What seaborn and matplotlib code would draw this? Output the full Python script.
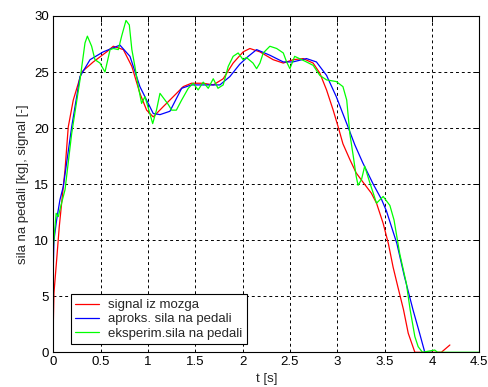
import numpy as np
import pandas as pd
import matplotlib
matplotlib.use("Agg")
import matplotlib.pyplot as plt
import seaborn as sns

# -----------------------------
# Data
# -----------------------------
t_red = [0.0, 0.001, 0.007, 0.035, 0.063, 0.088, 0.124, 0.158, 0.211, 0.3,
         0.422, 0.564, 0.634, 0.74, 0.83, 0.915, 0.986, 1.056, 1.16, 1.267,
         1.373, 1.46, 1.584, 1.69, 1.795, 1.9, 2.006, 2.077, 2.183, 2.323,
         2.43, 2.534, 2.64, 2.745, 2.816, 2.887, 2.957, 3.01, 3.06, 3.133,
         3.2, 3.27, 3.36, 3.415, 3.485, 3.54, 3.59, 3.64, 3.7, 3.75,
         3.82, 4.1, 4.19]
v_red = [0.0, 2.9, 5.3, 8.2, 11.2, 13.3, 16.3, 20.1, 22.5, 25.0,
         25.9, 26.8, 27.3, 27.0, 25.5, 23.1, 21.6, 21.0, 21.9, 22.8,
         23.7, 24.0, 24.0, 23.85, 24.4, 25.8, 26.8, 27.1, 26.8, 26.1,
         25.8, 26.1, 26.2, 25.8, 24.9, 23.4, 21.6, 20.1, 18.6, 17.2,
         16.0, 15.2, 14.2, 13.3, 11.5, 9.7, 7.6, 5.85, 3.8, 1.7,
         0.0, 0.0, 0.65]

t_blue = [0.0, 0.007, 0.035, 0.07, 0.106, 0.194, 0.282, 0.388, 0.528, 0.704,
          0.81, 0.915, 1.056, 1.127, 1.232, 1.356, 1.46, 1.584, 1.76, 1.866,
          1.97, 2.06, 2.148, 2.288, 2.43, 2.53, 2.675, 2.78, 2.887, 2.99,
          3.1, 3.186, 3.27, 3.38, 3.47, 3.52, 3.63, 3.71, 3.8, 3.87,
          3.925, 4.0]
v_blue = [7.6, 10.0, 11.8, 13.6, 14.8, 20.1, 24.6, 26.1, 26.8, 27.4,
          26.4, 23.7, 21.3, 21.2, 21.5, 23.55, 23.85, 23.85, 23.85, 24.6,
          25.7, 26.4, 27.0, 26.5, 25.9, 25.9, 26.2, 25.9, 24.7, 22.8,
          20.4, 18.5, 16.9, 15.0, 13.6, 12.6, 9.7, 6.75, 3.8, 1.7,
          0.0, 0.0]

t_green = [0.0, 0.03, 0.053, 0.078, 0.124, 0.194, 0.282, 0.335, 0.36, 0.405,
           0.44, 0.493, 0.546, 0.6, 0.634, 0.687, 0.722, 0.768, 0.803, 0.83,
           0.862, 0.898, 0.933, 0.968, 1.0, 1.05, 1.09, 1.127, 1.18, 1.215,
           1.25, 1.3, 1.356, 1.426, 1.478, 1.53, 1.584, 1.637, 1.69, 1.74,
           1.795, 1.848, 1.9, 1.953, 2.006, 2.04, 2.11, 2.148, 2.183, 2.218,
           2.288, 2.36, 2.43, 2.465, 2.5, 2.55, 2.6, 2.675, 2.745, 2.816,
           2.887, 2.99, 3.06, 3.1, 3.133, 3.17, 3.2, 3.22, 3.256, 3.29,
           3.345, 3.415, 3.485, 3.556, 3.6, 3.66, 3.73, 3.77, 3.82, 3.855,
           3.9, 4.03, 4.06, 4.5]
v_green = [9.4, 12.4, 12.1, 13.0, 14.5, 19.5, 24.3, 27.6, 28.2, 27.3,
           26.1, 25.8, 25.0, 27.0, 27.1, 27.0, 28.2, 29.6, 29.2, 27.0,
           25.5, 23.7, 22.2, 22.8, 21.9, 20.4, 21.6, 23.1, 22.5, 22.1,
           21.6, 21.6, 22.5, 23.55, 24.0, 23.4, 24.1, 23.55, 24.4, 23.55,
           23.85, 25.5, 26.4, 26.7, 26.1, 26.3, 25.8, 25.3, 25.8, 26.7,
           27.3, 27.1, 26.7, 25.9, 25.3, 26.4, 26.2, 25.9, 25.6, 24.7,
           24.3, 24.15, 23.7, 22.5, 19.5, 17.45, 15.7, 14.9, 15.4, 16.6,
           15.1, 13.3, 13.9, 13.1, 11.8, 8.8, 6.15, 3.8, 1.4, 0.5,
           0.0, 0.2, 0.0, 0.0]

labels = ["signal iz mozga", "aproks. sila na pedali", "eksperim.sila na pedali"]
colors = ["#ff0000", "#0000ff", "#00ff00"]

x_ticks = [0, 0.5, 1, 1.5, 2, 2.5, 3, 3.5, 4, 4.5]
x_ticklabels = ["0", "0.5", "1", "1.5", "2", "2.5", "3", "3.5", "4", "4.5"]
y_ticks = [0, 5, 10, 15, 20, 25, 30]

# -----------------------------
# Style
# -----------------------------
sns.set_style("white")
plt.rcParams["font.family"] = ["Liberation Sans", "DejaVu Sans"]
plt.rcParams["font.size"] = 9.5

fig = plt.figure(figsize=(4.89, 3.87), dpi=100)
ax = fig.add_axes([0.109, 0.0897, 0.871, 0.869])

series = [(t_red, v_red), (t_blue, v_blue), (t_green, v_green)]
for (t, v), lab, col in zip(series, labels, colors):
    sns.lineplot(x=t, y=v, ax=ax, color=col, linewidth=0.9, label=lab,
                 sort=False, estimator=None)

ax.set_xlim(0, 4.5)
ax.set_ylim(0, 30)
ax.set_xticks(x_ticks)
ax.set_xticklabels(x_ticklabels)
ax.set_yticks(y_ticks)

ax.grid(True, color="black", linestyle=(0, (3, 3)), linewidth=0.7)
ax.tick_params(direction="in", top=True, right=True, length=4,
               width=0.7, colors="black", labelsize=9.5, pad=3)
for s in ax.spines.values():
    s.set_color("black")
    s.set_linewidth(0.8)

ax.set_xlabel("t [s]", fontsize=9.5, labelpad=3)
ax.set_ylabel("sila na pedali [kg], signal [-]", fontsize=9.5, labelpad=4)

leg = ax.legend(loc="lower left", bbox_to_anchor=(0.041, 0.024),
                frameon=True, fancybox=False, framealpha=1,
                edgecolor="black", fontsize=9.5, handlelength=1.8,
                handletextpad=0.7, labelspacing=0.15, borderpad=0.35,
                borderaxespad=0)
leg.get_frame().set_linewidth(0.8)

fig.savefig("out.png", dpi=100)
